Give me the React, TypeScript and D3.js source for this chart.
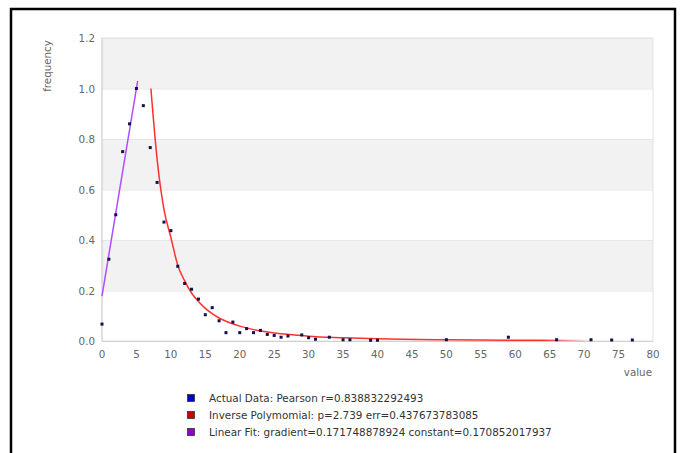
import React, { useEffect, useRef } from 'react';
import * as d3 from 'd3';

// observed points (value, frequency)
const dataX = [0, 1, 2, 3, 4, 5, 6, 7, 8, 9, 10, 11, 12, 13, 14, 15, 16, 17, 18, 19, 20, 21, 22, 23, 24, 25, 26, 27, 29, 30, 31, 33, 35, 36, 39, 40, 50, 59, 66, 71, 74, 77];
const dataY = [0.067, 0.324, 0.5, 0.75, 0.86, 1.0, 0.932, 0.766, 0.628, 0.471, 0.437, 0.296, 0.228, 0.205, 0.166, 0.104, 0.132, 0.08, 0.033, 0.075, 0.033, 0.049, 0.033, 0.042, 0.026, 0.022, 0.015, 0.02, 0.024, 0.013, 0.007, 0.015, 0.005, 0.005, 0.003, 0.003, 0.005, 0.015, 0.005, 0.005, 0.004, 0.004];

// inverse polynomial curve
const invX = [7.1, 8, 9, 10, 11, 12, 13, 14, 15, 16, 17, 18, 20, 22, 25, 28, 30, 35, 40, 50, 60, 71];
const invY = [1.0, 0.72, 0.52, 0.41, 0.3, 0.238, 0.19, 0.156, 0.129, 0.108, 0.091, 0.078, 0.059, 0.045, 0.032, 0.024, 0.019, 0.013, 0.009, 0.005, 0.003, 0.002];

// linear fit segment
const linX = [0, 5.18];
const linY = [0.178, 1.03];

const xTicks = d3.range(0, 81, 5);
const yTicks = [0, 0.2, 0.4, 0.6, 0.8, 1.0, 1.2];

const legendLabels = [
  'Actual Data: Pearson r=0.838832292493',
  'Inverse Polymomial: p=2.739 err=0.437673783085',
  'Linear Fit: gradient=0.171748878924 constant=0.170852017937',
];
const legendColors = ['#0000cc', '#cc0000', '#8a00cc'];

function App() {
  const ref = useRef<SVGSVGElement>(null);

  useEffect(() => {
    const svg = d3.select(ref.current);
    svg.selectAll('*').remove();

    const left = 102, right = 653, top = 38, bottom = 341;
    const x = d3.scaleLinear().domain([0, 80]).range([left, right]);
    const y = d3.scaleLinear().domain([0, 1.2]).range([bottom, top]);
    const font = 'DejaVu Sans, sans-serif';

    svg.append('rect').attr('width', 683).attr('height', 453).attr('fill', '#fff');

    // outer frame
    svg.append('path')
      .attr('d', 'M11,455 L11,9 L675,9 L675,455')
      .attr('fill', 'none').attr('stroke', '#000').attr('stroke-width', 2.5);

    // alternating bands
    const bands = svg.append('g');
    for (let i = 0; i < yTicks.length - 1; i++) {
      if (i % 2 === 1) {
        bands.append('rect')
          .attr('x', left).attr('y', y(yTicks[i + 1]))
          .attr('width', right - left).attr('height', y(yTicks[i]) - y(yTicks[i + 1]))
          .attr('fill', '#f2f2f2');
      }
    }
    svg.append('g').selectAll('line').data(yTicks).enter().append('line')
      .attr('x1', left).attr('x2', right)
      .attr('y1', d => y(d) + 0.5).attr('y2', d => y(d) + 0.5)
      .attr('stroke', '#e6e6e6');
    svg.append('rect')
      .attr('x', left).attr('y', top).attr('width', right - left).attr('height', bottom - top)
      .attr('fill', 'none').attr('stroke', '#e2e2e2');

    // axis lines
    svg.append('line').attr('x1', left).attr('x2', left).attr('y1', top).attr('y2', bottom)
      .attr('stroke', '#d0d0d0');
    svg.append('line').attr('x1', left).attr('x2', right).attr('y1', bottom + 0.5).attr('y2', bottom + 0.5)
      .attr('stroke', '#d0d0d0');

    // tick labels
    svg.append('g').selectAll('text').data(yTicks).enter().append('text')
      .attr('x', left - 7).attr('y', d => y(d) + 4)
      .attr('text-anchor', 'end').attr('font-family', font).attr('font-size', 10.3)
      .attr('fill', '#666').text(d => d.toFixed(1));
    svg.append('g').selectAll('text').data(xTicks).enter().append('text')
      .attr('x', d => x(d)).attr('y', bottom + 17)
      .attr('text-anchor', 'middle').attr('font-family', font).attr('font-size', 10.3)
      .attr('fill', '#666').text(d => String(d));

    svg.append('text').attr('x', right - 1).attr('y', bottom + 35)
      .attr('text-anchor', 'end').attr('font-family', font).attr('font-size', 10.3)
      .attr('fill', '#666').text('value');
    svg.append('text')
      .attr('transform', `translate(51,66) rotate(-90)`)
      .attr('text-anchor', 'middle').attr('font-family', font).attr('font-size', 10.3)
      .attr('fill', '#666').text('frequency');

    // red curve fading out at the end
    const defs = svg.append('defs');
    const grad = defs.append('linearGradient').attr('id', 'fade')
      .attr('gradientUnits', 'userSpaceOnUse')
      .attr('x1', x(64)).attr('x2', x(71)).attr('y1', 0).attr('y2', 0);
    grad.append('stop').attr('offset', 0).attr('stop-color', '#ff3030').attr('stop-opacity', 1);
    grad.append('stop').attr('offset', 1).attr('stop-color', '#ff3030').attr('stop-opacity', 0);

    const line = d3.line<[number, number]>()
      .x(d => x(d[0])).y(d => y(d[1])).curve(d3.curveMonotoneX);

    svg.append('path')
      .datum(invX.map((v, i) => [v, invY[i]] as [number, number]))
      .attr('d', line).attr('fill', 'none')
      .attr('stroke', 'url(#fade)').attr('stroke-width', 1.5);

    svg.append('path')
      .datum(linX.map((v, i) => [v, linY[i]] as [number, number]))
      .attr('d', d3.line<[number, number]>().x(d => x(d[0])).y(d => y(d[1])))
      .attr('fill', 'none').attr('stroke', '#b24dff').attr('stroke-width', 1.5);

    // points
    svg.append('g').selectAll('rect').data(dataX).enter().append('rect')
      .attr('x', d => x(d) - 1.5).attr('y', (d, i) => y(dataY[i]) - 1.5)
      .attr('width', 3).attr('height', 3).attr('fill', '#10104a');

    // legend
    const lg = svg.append('g');
    legendLabels.forEach((t, i) => {
      const ly = 398 + i * 17;
      lg.append('rect').attr('x', 187.5).attr('y', ly - 3.5).attr('width', 7).attr('height', 7)
        .attr('fill', legendColors[i]).attr('stroke', '#333').attr('stroke-width', 0.8);
      lg.append('text').attr('x', 209).attr('y', ly + 3.5)
        .attr('font-family', font).attr('font-size', 10.4).attr('fill', '#333').text(t);
    });
  }, []);

  return (
    <svg ref={ref} width={683} height={453}
      style={{ position: 'absolute', left: 0, top: 0 }} />
  );
}

export default App;
